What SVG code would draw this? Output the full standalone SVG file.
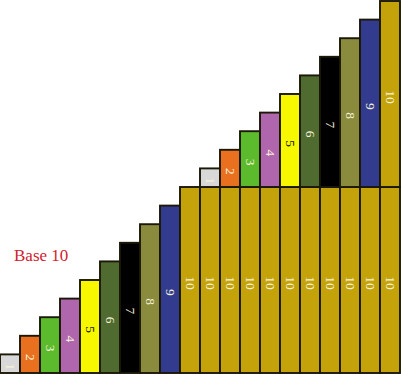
<svg xmlns="http://www.w3.org/2000/svg" width="401" height="374" viewBox="0 0 401 374">
<style>
rect{stroke:#1c1808;stroke-width:1.9}
.c1{fill:#d8d8d8}.c2{fill:#e8701f}.c3{fill:#5cbb2c}.c4{fill:#b066ad}.c5{fill:#f7f700}
.c6{fill:#4f6b30}.c7{fill:#000}.c8{fill:#8a8b3c}.c9{fill:#333b8e}.c10{fill:#c4a20a}
text.n{font-family:"Liberation Serif","Times New Roman",serif;font-size:13.5px;fill:#f6f2da;text-anchor:middle;dominant-baseline:central}
text.dk{fill:#111}
.title{font-family:"Liberation Serif","Times New Roman",serif;font-size:17px;fill:#d0202e}
</style>
<rect x="0" y="0" width="401" height="374" fill="#fff" style="stroke:none"/>
<text class="title" x="14" y="261">Base 10</text>
<!-- bottom staircase -->
<g id="b1"><rect class="c1" x="0" y="354.4" width="20" height="18.6"/><text class="n" transform="translate(10,366.7) rotate(90)">1</text></g>
<g id="b2"><rect class="c2" x="20" y="335.8" width="20" height="37.2"/><text class="n" transform="translate(30,357.4) rotate(90)">2</text></g>
<g id="b3"><rect class="c3" x="40" y="317.2" width="20" height="55.8"/><text class="n" transform="translate(50,348.1) rotate(90)">3</text></g>
<g id="b4"><rect class="c4" x="60" y="298.6" width="20" height="74.4"/><text class="n" transform="translate(70,338.8) rotate(90)">4</text></g>
<g id="b5"><rect class="c5" x="80" y="280" width="20" height="93"/><text class="n dk" transform="translate(90,329.5) rotate(90)">5</text></g>
<g id="b6"><rect class="c6" x="100" y="261.4" width="20" height="111.6"/><text class="n" transform="translate(110,320.2) rotate(90)">6</text></g>
<g id="b7"><rect class="c7" x="120" y="242.8" width="20" height="130.2"/><text class="n" transform="translate(130,310.9) rotate(90)">7</text></g>
<g id="b8"><rect class="c8" x="140" y="224.2" width="20" height="148.8"/><text class="n" transform="translate(150,301.6) rotate(90)">8</text></g>
<g id="b9"><rect class="c9" x="160" y="205.6" width="20" height="167.4"/><text class="n" transform="translate(170,292.3) rotate(90)">9</text></g>
<!-- bottom tens -->
<g id="t1"><rect class="c10" x="180" y="187" width="20" height="186"/><text class="n" transform="translate(190,283) rotate(90)">10</text></g>
<g id="t2"><rect class="c10" x="200" y="187" width="20" height="186"/><text class="n" transform="translate(210,283) rotate(90)">10</text></g>
<g id="t3"><rect class="c10" x="220" y="187" width="20" height="186"/><text class="n" transform="translate(230,283) rotate(90)">10</text></g>
<g id="t4"><rect class="c10" x="240" y="187" width="20" height="186"/><text class="n" transform="translate(250,283) rotate(90)">10</text></g>
<g id="t5"><rect class="c10" x="260" y="187" width="20" height="186"/><text class="n" transform="translate(270,283) rotate(90)">10</text></g>
<g id="t6"><rect class="c10" x="280" y="187" width="20" height="186"/><text class="n" transform="translate(290,283) rotate(90)">10</text></g>
<g id="t7"><rect class="c10" x="300" y="187" width="20" height="186"/><text class="n" transform="translate(310,283) rotate(90)">10</text></g>
<g id="t8"><rect class="c10" x="320" y="187" width="20" height="186"/><text class="n" transform="translate(330,283) rotate(90)">10</text></g>
<g id="t9"><rect class="c10" x="340" y="187" width="20" height="186"/><text class="n" transform="translate(350,283) rotate(90)">10</text></g>
<g id="t10"><rect class="c10" x="360" y="187" width="20" height="186"/><text class="n" transform="translate(370,283) rotate(90)">10</text></g>
<g id="t11"><rect class="c10" x="380" y="187" width="20" height="186"/><text class="n" transform="translate(390,283) rotate(90)">10</text></g>
<!-- top staircase -->
<g id="u1"><rect class="c1" x="200" y="168.4" width="20" height="18.6"/><text class="n" transform="translate(210,180.7) rotate(90)">1</text></g>
<g id="u2"><rect class="c2" x="220" y="149.8" width="20" height="37.2"/><text class="n" transform="translate(230,171.4) rotate(90)">2</text></g>
<g id="u3"><rect class="c3" x="240" y="131.2" width="20" height="55.8"/><text class="n" transform="translate(250,162.1) rotate(90)">3</text></g>
<g id="u4"><rect class="c4" x="260" y="112.6" width="20" height="74.4"/><text class="n" transform="translate(270,152.8) rotate(90)">4</text></g>
<g id="u5"><rect class="c5" x="280" y="94" width="20" height="93"/><text class="n dk" transform="translate(290,143.5) rotate(90)">5</text></g>
<g id="u6"><rect class="c6" x="300" y="75.4" width="20" height="111.6"/><text class="n" transform="translate(310,134.2) rotate(90)">6</text></g>
<g id="u7"><rect class="c7" x="320" y="56.8" width="20" height="130.2"/><text class="n" transform="translate(330,124.9) rotate(90)">7</text></g>
<g id="u8"><rect class="c8" x="340" y="38.2" width="20" height="148.8"/><text class="n" transform="translate(350,115.6) rotate(90)">8</text></g>
<g id="u9"><rect class="c9" x="360" y="19.6" width="20" height="167.4"/><text class="n" transform="translate(370,106.3) rotate(90)">9</text></g>
<g id="u10"><rect class="c10" x="380" y="1" width="20" height="186"/><text class="n" transform="translate(390,97) rotate(90)">10</text></g>
</svg>
